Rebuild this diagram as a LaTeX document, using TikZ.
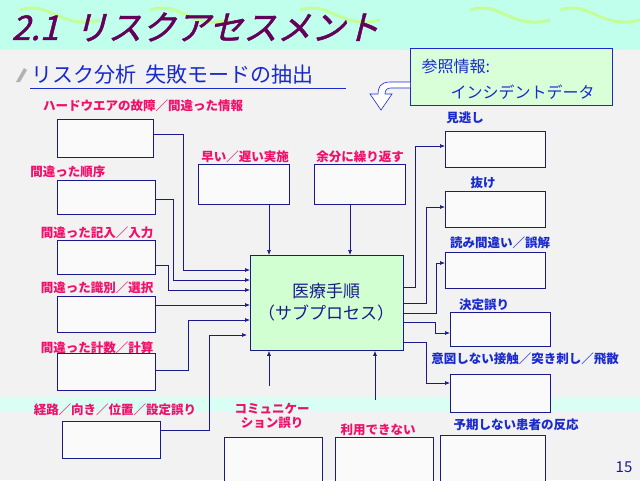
\documentclass[tikz,border=0pt]{standalone}
\usepackage{fontspec}
\setmainfont{Noto Sans CJK JP}
\newfontfamily\slantfont[FakeSlant=0.25,FakeBold=1.5]{Noto Sans CJK JP}
\usetikzlibrary{arrows.meta}
\definecolor{ln}{HTML}{1A1A8C}
\definecolor{rd}{HTML}{F0106A}
\definecolor{bl}{HTML}{1A2ACC}
\tikzset{
 bx/.style={draw=ln,fill=white!96!gray,line width=0.8pt},
 con/.style={draw=ln,line width=0.7pt,-{Latex[length=5pt,width=4pt]}},
 rl/.style={text=rd,font=\fontsize{12.5}{14}\selectfont\bfseries,inner sep=0pt},
 bll/.style={text=bl,font=\fontsize{12.5}{14}\selectfont\bfseries,inner sep=0pt},
}
\begin{document}
\begin{tikzpicture}[x=1pt,y=-1pt]
\useasboundingbox (0,0) rectangle (640,480);
\fill[gray!10] (0,0) rectangle (640,480);
\fill[green!30!cyan!25] (0,0) rectangle (640,50);
\foreach \a in {20,150,300,470,560}{\draw[green!45!lime!40,line width=3pt] (\a,10) .. controls (\a+30,0) and (\a+40,30) .. (\a+80,20);}
\fill[green!30!cyan!15] (0,398) rectangle (640,412);
\node[anchor=west,text={rgb,255:red,100;green,0;blue,90},font=\fontsize{34}{36}\slantfont] (title) at (8,27) {2.1\ \ リスクアセスメント};
\node[anchor=west,text=bl,font=\fontsize{21}{23}\selectfont] (sub) at (28,75) {リスク分析\ \ 失敗モードの抽出};
\draw[bl,line width=0.8pt] (30,88) -- (346,88);
\fill[gray!60] (16,82) -- (24,68) -- (27,70) -- (20,82) -- cycle;
\node[draw=bl,fill=green!15,line width=0.8pt,minimum width=202pt,minimum height=57pt,anchor=north west,inner sep=0pt] (ref) at (410,48) {};
\node[anchor=west,text=bl,font=\fontsize{16}{18}\selectfont] (r1) at (418,66) {参照情報:};
\node[anchor=west,text=bl,font=\fontsize{16}{18}\selectfont] (r2) at (447,92) {インシデントデータ};
\draw[bl,fill=white,line width=0.6pt] (410,82) -- (390,82) .. controls (380,82) and (378,88) .. (378,94) -- (370,94) -- (381,110) -- (392,94) -- (385,94) .. controls (385,90) and (387,88) .. (391,88) -- (410,88);
% center
\node[draw=ln,fill=green!18,line width=0.8pt,minimum width=153pt,minimum height=95pt,anchor=north west,inner sep=0pt] (c) at (250,255) {};
\node[text=ln,font=\fontsize{17}{22}\selectfont,align=center] (ct) at (326,302) {医療手順\\（サブプロセス）};
% left boxes
\node[bx,minimum width=96pt,minimum height=38pt,anchor=north west,inner sep=0pt] (A) at (57,119) {};
\node[bx,minimum width=98pt,minimum height=34pt,anchor=north west,inner sep=0pt] (B) at (57,180) {};
\node[bx,minimum width=98pt,minimum height=34pt,anchor=north west,inner sep=0pt] (C) at (57,240) {};
\node[bx,minimum width=98pt,minimum height=36pt,anchor=north west,inner sep=0pt] (D) at (57,296) {};
\node[bx,minimum width=98pt,minimum height=37pt,anchor=north west,inner sep=0pt] (E) at (57,353) {};
\node[bx,minimum width=98pt,minimum height=37pt,anchor=north west,inner sep=0pt] (F) at (62,421) {};
\node[bx,minimum width=91pt,minimum height=40pt,anchor=north west,inner sep=0pt] (T1) at (198,164) {};
\node[bx,minimum width=91pt,minimum height=40pt,anchor=north west,inner sep=0pt] (T2) at (314,164) {};
\node[bx,minimum width=98pt,minimum height=45pt,anchor=north west,inner sep=0pt] (B1) at (224,437) {};
\node[bx,minimum width=98pt,minimum height=45pt,anchor=north west,inner sep=0pt] (B2) at (335,437) {};
\node[bx,minimum width=105pt,minimum height=47pt,anchor=north west,inner sep=0pt] (B3) at (440,435) {};
% right boxes
\node[bx,minimum width=100pt,minimum height=36pt,anchor=north west,inner sep=0pt] (R1) at (445,131) {};
\node[bx,minimum width=100pt,minimum height=36pt,anchor=north west,inner sep=0pt] (R2) at (445,191) {};
\node[bx,minimum width=100pt,minimum height=36pt,anchor=north west,inner sep=0pt] (R3) at (445,252) {};
\node[bx,minimum width=100pt,minimum height=34pt,anchor=north west,inner sep=0pt] (R4) at (450,312) {};
\node[bx,minimum width=100pt,minimum height=38pt,anchor=north west,inner sep=0pt] (R5) at (450,374) {};
% labels
\node[rl] (lA) at (143,106) {ハードウエアの故障／間違った情報};
\node[rl] (lB) at (68,172) {間違った順序};
\node[rl] (lC) at (97,233) {間違った記入／入力};
\node[rl] (lD) at (97,288) {間違った識別／選択};
\node[rl] (lE) at (97,348) {間違った計数／計算};
\node[rl] (lF) at (115,410) {経路／向き／位置／設定誤り};
\node[rl] (lT1) at (245,157) {早い／遅い実施};
\node[rl] (lT2) at (360,157) {余分に繰り返す};
\node[rl,align=center] (lB1) at (272,416) {コミュニケー\\ション誤り};
\node[rl] (lB2) at (378,430) {利用できない};
\node[bll] (lR1) at (465,118) {見逃し};
\node[bll] (lR2) at (483,183) {抜け};
\node[bll] (lR3) at (500,243) {読み間違い／誤解};
\node[bll] (lR4) at (484,305) {決定誤り};
\node[bll] (lR5) at (525,359) {意図しない接触／突き刺し／飛散};
\node[bll] (lB3) at (516,425) {予期しない患者の反応};
\node[text=ln,font=\fontsize{15}{16}\selectfont] (pg) at (624,467) {15};
% connectors
\draw[con] (A.east|-0,134) -| (183,270) -- (c.west|-0,270);
\draw[con] (B.east|-0,199) -| (173,280) -- (c.west|-0,280);
\draw[con] (C.east|-0,265) -| (168,290) -- (c.west|-0,290);
\draw[con] (D.east|-0,305) -- (c.west|-0,305);
\draw[con] (E.east|-0,370) -| (188,320) -- (c.west|-0,320);
\draw[con] (F.east|-0,430) -| (209,335) -- (247,335);
\draw[con] (T1.south-|269,0) -- (c.north-|269,0);
\draw[con] (T2.south-|350,0) -- (c.north-|350,0);
\coordinate (f1) at (269,386);
\coordinate (f2) at (375,400);
\draw[con] (f1) -- (c.south-|269,0);
\draw[con] (f2) -- (c.south-|375,0);
\draw[con] (c.east|-0,287) -| (415,146) -- (R1.west|-0,146);
\draw[con] (c.east|-0,303) -| (426,207) -- (R2.west|-0,207);
\draw[con] (c.east|-0,313) -| (436,263) -- (R3.west|-0,263);
\draw[con] (c.east|-0,322) -| (435,333) -- (R4.west|-0,333);
\draw[con] (c.east|-0,342) -| (426,383) -- (R5.west|-0,383);
\end{tikzpicture}
\end{document}
